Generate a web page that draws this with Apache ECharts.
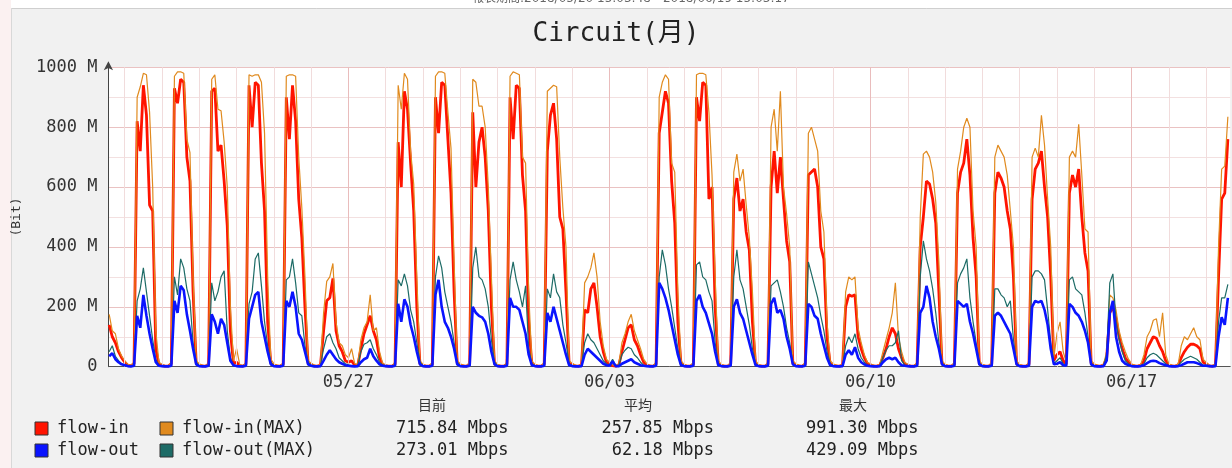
<!DOCTYPE html>
<html>
<head>
<meta charset="utf-8">
<script src="https://cdn.jsdelivr.net/npm/echarts@6/dist/echarts.min.js"></script>
<style>
html, body { margin: 0; padding: 0; background: #fff; }
#circuit_echarts { width: 1232px; height: 468px; }
</style>
</head>
<body>
<div id="circuit_echarts"></div>
<script>
// samples every 2 hours, hour 0 = 05/20 00:00, first sample 05/20 14:00
var firstHour = 14;
var stepHours = 2;

// x axis labels (hours since 05/20 00:00)
var xTickHours = [168, 336, 504, 672];
var xTickLabels = ["05/27", "06/03", "06/10", "06/17"];

var seriesNames = ["flow-in", "flow-in(MAX)", "flow-out", "flow-out(MAX)"];

// values in M
var flowIn = [
  140, 100, 80, 50, 30, // 05/20
  15, 5, 3, 10, 820, 720, 940, 840, 540, 520, 60, 8, // 05/21
  4, 2, 2, 10, 930, 880, 960, 950, 700, 620, 250, 12, // 05/22
  5, 3, 2, 8, 920, 930, 720, 740, 620, 470, 120, 10, // 05/23
  15, 4, 2, 8, 940, 800, 950, 940, 680, 520, 150, 12, // 05/24
  5, 3, 2, 8, 900, 760, 940, 820, 560, 430, 200, 12, // 05/25
  6, 3, 2, 5, 120, 220, 230, 295, 120, 70, 50, 20, // 05/26
  15, 20, 5, 4, 60, 110, 140, 170, 120, 90, 30, 6, // 05/27
  3, 2, 2, 8, 750, 600, 920, 860, 680, 520, 200, 10, // 05/28
  4, 2, 2, 8, 900, 780, 950, 940, 760, 580, 250, 12, // 05/29
  5, 3, 2, 8, 850, 600, 750, 800, 700, 520, 200, 10, // 05/30
  4, 2, 2, 8, 900, 760, 940, 930, 640, 520, 150, 10, // 05/31
  4, 2, 2, 8, 720, 840, 880, 760, 500, 460, 250, 12, // 06/01
  6, 3, 2, 5, 190, 180, 260, 280, 200, 100, 50, 15, // 06/02
  8, 4, 2, 5, 50, 90, 130, 140, 90, 70, 40, 15, // 06/03
  5, 3, 2, 8, 780, 850, 920, 880, 620, 480, 150, 10, // 06/04
  4, 2, 2, 8, 900, 820, 950, 940, 560, 600, 200, 10, // 06/05
  4, 2, 2, 8, 560, 630, 520, 560, 450, 390, 150, 10, // 06/06
  4, 2, 2, 8, 600, 720, 580, 700, 560, 420, 350, 12, // 06/07
  5, 3, 2, 8, 640, 650, 660, 600, 400, 360, 100, 10, // 06/08
  5, 3, 2, 5, 200, 240, 235, 240, 100, 60, 30, 10, // 06/09
  5, 3, 2, 5, 30, 60, 100, 130, 110, 60, 30, 10, // 06/10
  4, 2, 2, 8, 400, 500, 620, 610, 560, 480, 250, 10, // 06/11
  4, 2, 2, 8, 580, 650, 680, 760, 640, 430, 300, 10, // 06/12
  4, 2, 2, 8, 580, 650, 630, 600, 520, 460, 300, 10, // 06/13
  4, 2, 2, 8, 560, 660, 680, 720, 600, 500, 300, 20, // 06/14
  40, 50, 20, 8, 580, 640, 600, 660, 500, 380, 320, 12, // 06/15
  5, 3, 2, 5, 30, 180, 200, 160, 100, 60, 30, 15, // 06/16
  5, 3, 2, 5, 20, 60, 80, 100, 95, 70, 50, 20, // 06/17
  5, 3, 2, 5, 30, 50, 65, 75, 75, 70, 60, 15, // 06/18
  10, 3, 2, 5, 300, 560, 580, 760 // 06/19
];

var flowInMax = [
  175, 120, 110, 60, 35,
  20, 8, 4, 15, 900, 935, 980, 975, 850, 600, 120, 15,
  8, 4, 3, 15, 970, 985, 985, 980, 760, 715, 300, 20,
  10, 5, 3, 12, 960, 975, 860, 855, 750, 600, 200, 20,
  60, 8, 3, 12, 975, 970, 975, 975, 950, 780, 300, 25,
  10, 5, 3, 12, 970, 975, 975, 970, 700, 530, 300, 20,
  12, 5, 3, 8, 180, 285, 300, 345, 150, 80, 70, 40,
  30, 60, 10, 8, 90, 130, 150, 240, 120, 130, 50, 12,
  6, 4, 3, 15, 940, 860, 980, 960, 720, 610, 300, 20,
  8, 4, 3, 15, 970, 985, 985, 980, 850, 730, 350, 20,
  10, 5, 3, 15, 960, 950, 870, 870, 800, 600, 300, 20,
  8, 4, 3, 15, 970, 985, 980, 975, 700, 680, 250, 20,
  8, 4, 3, 15, 920, 930, 940, 935, 700, 530, 400, 20,
  12, 5, 3, 8, 280, 300, 330, 380, 300, 150, 70, 25,
  15, 6, 3, 8, 80, 110, 150, 175, 120, 90, 60, 25,
  10, 5, 3, 15, 900, 950, 975, 960, 680, 650, 250, 20,
  8, 4, 3, 15, 975, 980, 980, 975, 850, 640, 300, 20,
  8, 4, 3, 15, 650, 710, 620, 660, 540, 430, 250, 20,
  8, 4, 3, 15, 800, 860, 720, 920, 600, 510, 400, 20,
  10, 5, 3, 15, 780, 800, 760, 720, 520, 450, 150, 20,
  10, 5, 3, 8, 250, 300, 290, 300, 130, 80, 40, 15,
  10, 5, 3, 8, 50, 90, 130, 180, 280, 100, 50, 15,
  8, 4, 3, 15, 500, 710, 720, 700, 650, 550, 350, 20,
  8, 4, 3, 15, 660, 720, 800, 830, 800, 520, 400, 20,
  8, 4, 3, 15, 700, 740, 720, 700, 640, 520, 400, 20,
  8, 4, 3, 15, 700, 730, 700, 840, 740, 560, 400, 30,
  110, 150, 50, 15, 700, 720, 700, 810, 640, 460, 450, 20,
  10, 5, 3, 8, 50, 240, 230, 190, 120, 80, 50, 25,
  10, 5, 3, 8, 40, 100, 120, 155, 160, 100, 180, 40,
  10, 5, 3, 8, 70, 100, 90, 110, 130, 100, 90, 25,
  15, 5, 3, 10, 400, 660, 670, 835
];

var flowOut = [
  35, 45, 25, 15, 8,
  5, 2, 1, 3, 170, 130, 240, 170, 110, 60, 15, 3,
  2, 1, 1, 3, 220, 180, 270, 255, 175, 120, 60, 8,
  2, 1, 1, 3, 175, 150, 110, 160, 140, 80, 20, 5,
  2, 1, 1, 3, 160, 200, 240, 250, 150, 100, 50, 8,
  2, 1, 1, 3, 220, 200, 250, 200, 110, 90, 50, 8,
  3, 1, 1, 2, 20, 40, 55, 40, 25, 15, 10, 5,
  3, 2, 1, 2, 15, 25, 30, 60, 35, 20, 8, 3,
  2, 1, 1, 3, 210, 150, 225, 200, 140, 100, 50, 8,
  2, 1, 1, 3, 240, 290, 200, 150, 130, 100, 60, 8,
  2, 1, 1, 3, 200, 180, 170, 165, 150, 110, 50, 8,
  2, 1, 1, 3, 230, 200, 200, 190, 150, 110, 40, 5,
  2, 1, 1, 3, 180, 150, 200, 160, 120, 80, 40, 5,
  2, 1, 1, 2, 40, 60, 50, 40, 30, 20, 10, 5,
  3, 18, 2, 2, 10, 15, 20, 25, 15, 10, 5, 3,
  2, 1, 1, 3, 280, 260, 230, 190, 140, 90, 40, 5,
  2, 1, 1, 3, 220, 240, 200, 180, 145, 110, 50, 5,
  2, 1, 1, 3, 200, 225, 180, 160, 120, 80, 40, 5,
  2, 1, 1, 3, 210, 230, 180, 190, 160, 100, 60, 8,
  2, 1, 1, 3, 210, 200, 170, 160, 110, 70, 30, 5,
  2, 1, 1, 2, 40, 55, 40, 65, 30, 15, 8, 3,
  2, 1, 1, 2, 15, 25, 30, 25, 30, 15, 5, 3,
  2, 1, 1, 3, 180, 200, 270, 230, 150, 100, 60, 8,
  2, 1, 1, 3, 220, 210, 200, 210, 150, 110, 60, 8,
  2, 1, 1, 3, 170, 180, 170, 150, 130, 110, 60, 8,
  2, 1, 1, 3, 200, 220, 215, 220, 190, 140, 60, 8,
  10, 15, 5, 3, 210, 200, 180, 170, 150, 120, 80, 8,
  2, 1, 1, 2, 20, 180, 220, 100, 50, 20, 10, 5,
  2, 1, 1, 2, 5, 12, 18, 20, 18, 12, 8, 5,
  2, 1, 1, 2, 5, 10, 15, 15, 15, 12, 8, 3,
  3, 2, 1, 2, 100, 165, 140, 230
];

var flowOutMax = [
  50, 70, 35, 20, 10,
  6, 3, 2, 5, 220, 260, 330, 250, 170, 90, 25, 5,
  3, 2, 2, 5, 300, 240, 360, 330, 260, 220, 80, 15,
  3, 2, 2, 5, 280, 220, 250, 300, 320, 120, 30, 5,
  3, 2, 2, 5, 210, 250, 360, 380, 270, 150, 70, 15,
  3, 2, 2, 5, 290, 300, 360, 280, 180, 170, 70, 15,
  5, 2, 2, 4, 60, 100, 110, 80, 60, 30, 20, 10,
  6, 4, 2, 4, 50, 75, 80, 90, 60, 40, 15, 5,
  3, 2, 2, 5, 290, 270, 310, 270, 190, 150, 80, 15,
  3, 2, 2, 5, 300, 370, 330, 250, 200, 150, 80, 15,
  3, 2, 2, 5, 330, 400, 300, 290, 260, 200, 90, 15,
  3, 2, 2, 5, 290, 350, 290, 250, 200, 270, 60, 10,
  3, 2, 2, 5, 260, 230, 310, 250, 230, 140, 80, 10,
  4, 2, 2, 4, 80, 110, 90, 80, 60, 40, 20, 10,
  5, 25, 3, 4, 40, 55, 65, 60, 40, 30, 15, 5,
  3, 2, 2, 5, 300, 390, 340, 260, 200, 130, 60, 10,
  3, 2, 2, 5, 340, 350, 300, 290, 250, 220, 80, 10,
  3, 2, 2, 5, 300, 390, 290, 260, 200, 140, 60, 10,
  3, 2, 2, 5, 270, 280, 290, 250, 200, 130, 80, 10,
  3, 2, 2, 5, 350, 310, 270, 230, 170, 120, 50, 10,
  3, 2, 2, 4, 70, 100, 80, 110, 60, 30, 15, 5,
  3, 2, 2, 4, 30, 55, 70, 70, 80, 120, 20, 5,
  3, 2, 2, 5, 300, 420, 360, 320, 260, 180, 80, 10,
  3, 2, 2, 5, 280, 310, 330, 360, 230, 150, 80, 10,
  3, 2, 2, 5, 260, 260, 240, 230, 200, 220, 90, 10,
  3, 2, 2, 5, 300, 320, 320, 310, 290, 190, 80, 10,
  20, 30, 10, 5, 290, 300, 260, 250, 240, 180, 100, 10,
  3, 2, 2, 4, 40, 280, 310, 150, 90, 50, 20, 10,
  3, 2, 2, 4, 10, 30, 40, 45, 40, 30, 20, 10,
  3, 2, 2, 4, 15, 25, 30, 35, 30, 25, 15, 5,
  5, 3, 2, 5, 150, 230, 230, 275
];

var statHeaders = ["目前", "平均", "最大"];
var flowInStats = ["715.84 Mbps", "257.85 Mbps", "991.30 Mbps"];
var flowOutStats = ["273.01 Mbps", "62.18 Mbps", "429.09 Mbps"];
var reportPeriod = "報表期間:2018/05/20 15:03:48 - 2018/06/19 15:03:17";

var MONO = "'DejaVu Sans Mono', 'Noto Sans CJK TC', monospace";
var colors = ["#ff1400", "#e08a1e", "#0a14ff", "#1d6b66"];

function toPairs(arr) {
  return arr.map(function (v, i) { return [firstHour + i * stepHours, v]; });
}

// one vertical grid line per day, darker at week labels
var gridLines = [];
for (var h = 24; h < 736; h += 24) {
  var major = xTickHours.indexOf(h) >= 0;
  gridLines.push({
    xAxis: h,
    lineStyle: { color: major ? "#e9bcbc" : "#f1dcdc", width: 1, type: "solid" }
  });
}

var chart = echarts.init(document.getElementById("circuit_echarts"), null, { renderer: "canvas" });

var legendGraphics = [];
var legendPos = [[35, 429], [160, 429], [35, 451], [160, 451]];
seriesNames.forEach(function (name, i) {
  legendGraphics.push({
    type: "rect",
    shape: { x: legendPos[i][0], y: legendPos[i][1] - 7, width: 13, height: 13 },
    style: { fill: colors[i], stroke: "#333", lineWidth: 1 }
  });
  legendGraphics.push({
    type: "text",
    x: legendPos[i][0] + 22, y: legendPos[i][1],
    style: { text: name, font: "17px " + MONO, fill: "#222", verticalAlign: "middle" }
  });
});

var statGraphics = [];
var headerX = [432, 638, 853];
statHeaders.forEach(function (t, i) {
  statGraphics.push({
    type: "text", x: headerX[i], y: 405,
    style: { text: t, font: "14px 'Noto Sans CJK TC'", fill: "#333", align: "center", verticalAlign: "middle" }
  });
});
var colX = [396, 714, 806];
var colAlign = ["left", "right", "left"];
[flowInStats, flowOutStats].forEach(function (row, r) {
  row.forEach(function (t, i) {
    statGraphics.push({
      type: "text", x: colX[i], y: 429 + r * 22,
      style: { text: t, font: "17px " + MONO, fill: "#222", align: colAlign[i], verticalAlign: "middle" }
    });
  });
});

chart.setOption({
  animation: false,
  backgroundColor: "#f1f1f1",
  title: {
    text: "Circuit(月)",
    left: "center",
    top: 16,
    textStyle: { fontFamily: MONO, fontSize: 26, fontWeight: "normal", color: "#222" }
  },
  graphic: [].concat([
    { type: "rect", shape: { x: 0, y: 0, width: 1232, height: 8 }, style: { fill: "#ffffff" } },
    { type: "rect", shape: { x: 0, y: 0, width: 11, height: 468 }, style: { fill: "#fbf1f1" } },
    { type: "line", shape: { x1: 11, y1: 8.5, x2: 1232, y2: 8.5 }, style: { stroke: "#cfcfcf", lineWidth: 1 } },
    { type: "line", shape: { x1: 11.5, y1: 8, x2: 11.5, y2: 468 }, style: { stroke: "#d8d8d8", lineWidth: 1 } },
    {
      type: "text", x: 472, y: -7,
      style: { text: reportPeriod, font: "12px 'DejaVu Sans', 'Noto Sans CJK TC'", fill: "#666" }
    }
  ], legendGraphics, statGraphics),
  grid: {
    left: 108.4,
    top: 67.3,
    width: 1121.8,
    height: 299.4,
    show: true,
    backgroundColor: "#ffffff",
    borderWidth: 0
  },
  xAxis: {
    type: "value",
    min: 13.5,
    max: 735.5,
    axisLine: { show: true, lineStyle: { color: "#555", width: 1 } },
    axisTick: { show: false },
    splitLine: { show: false },
    axisLabel: {
      customValues: xTickHours,
      formatter: function (v) { return xTickLabels[xTickHours.indexOf(v)]; },
      fontFamily: MONO,
      fontSize: 17,
      color: "#333",
      margin: 7
    }
  },
  yAxis: {
    type: "value",
    min: 0,
    max: 1000,
    interval: 200,
    name: "(Bit)",
    nameLocation: "middle",
    nameRotate: 90,
    nameGap: 85,
    nameTextStyle: { fontFamily: MONO, fontSize: 13, color: "#333" },
    axisLine: {
      show: true,
      symbol: ["none", "arrow"],
      symbolSize: [7, 9],
      symbolOffset: [0, 6],
      lineStyle: { color: "#444", width: 1 }
    },
    axisTick: { show: false },
    axisLabel: {
      formatter: function (v) { return v === 0 ? "0" : v + " M"; },
      fontFamily: MONO,
      fontSize: 17,
      color: "#333",
      margin: 11
    },
    splitLine: { show: true, lineStyle: { color: "#eac2c2", width: 1 } },
    minorTick: { show: false, splitNumber: 2 },
    minorSplitLine: { show: true, lineStyle: { color: "#f3e0e0", width: 1 } }
  },
  series: [
    {
      name: "grid",
      type: "line",
      data: [],
      z: 1,
      silent: true,
      markLine: { silent: true, symbol: "none", label: { show: false }, animation: false, data: gridLines }
    },
    {
      name: seriesNames[0], type: "line", data: toPairs(flowIn), z: 3,
      showSymbol: false, lineStyle: { color: colors[0], width: 2.8 }
    },
    {
      name: seriesNames[1], type: "line", data: toPairs(flowInMax), z: 4,
      showSymbol: false, lineStyle: { color: colors[1], width: 1.2 }
    },
    {
      name: seriesNames[3], type: "line", data: toPairs(flowOutMax), z: 5,
      showSymbol: false, lineStyle: { color: colors[3], width: 1.2 }
    },
    {
      name: seriesNames[2], type: "line", data: toPairs(flowOut), z: 6,
      showSymbol: false, lineStyle: { color: colors[2], width: 2.6 }
    }
  ]
});
</script>
</body>
</html>
